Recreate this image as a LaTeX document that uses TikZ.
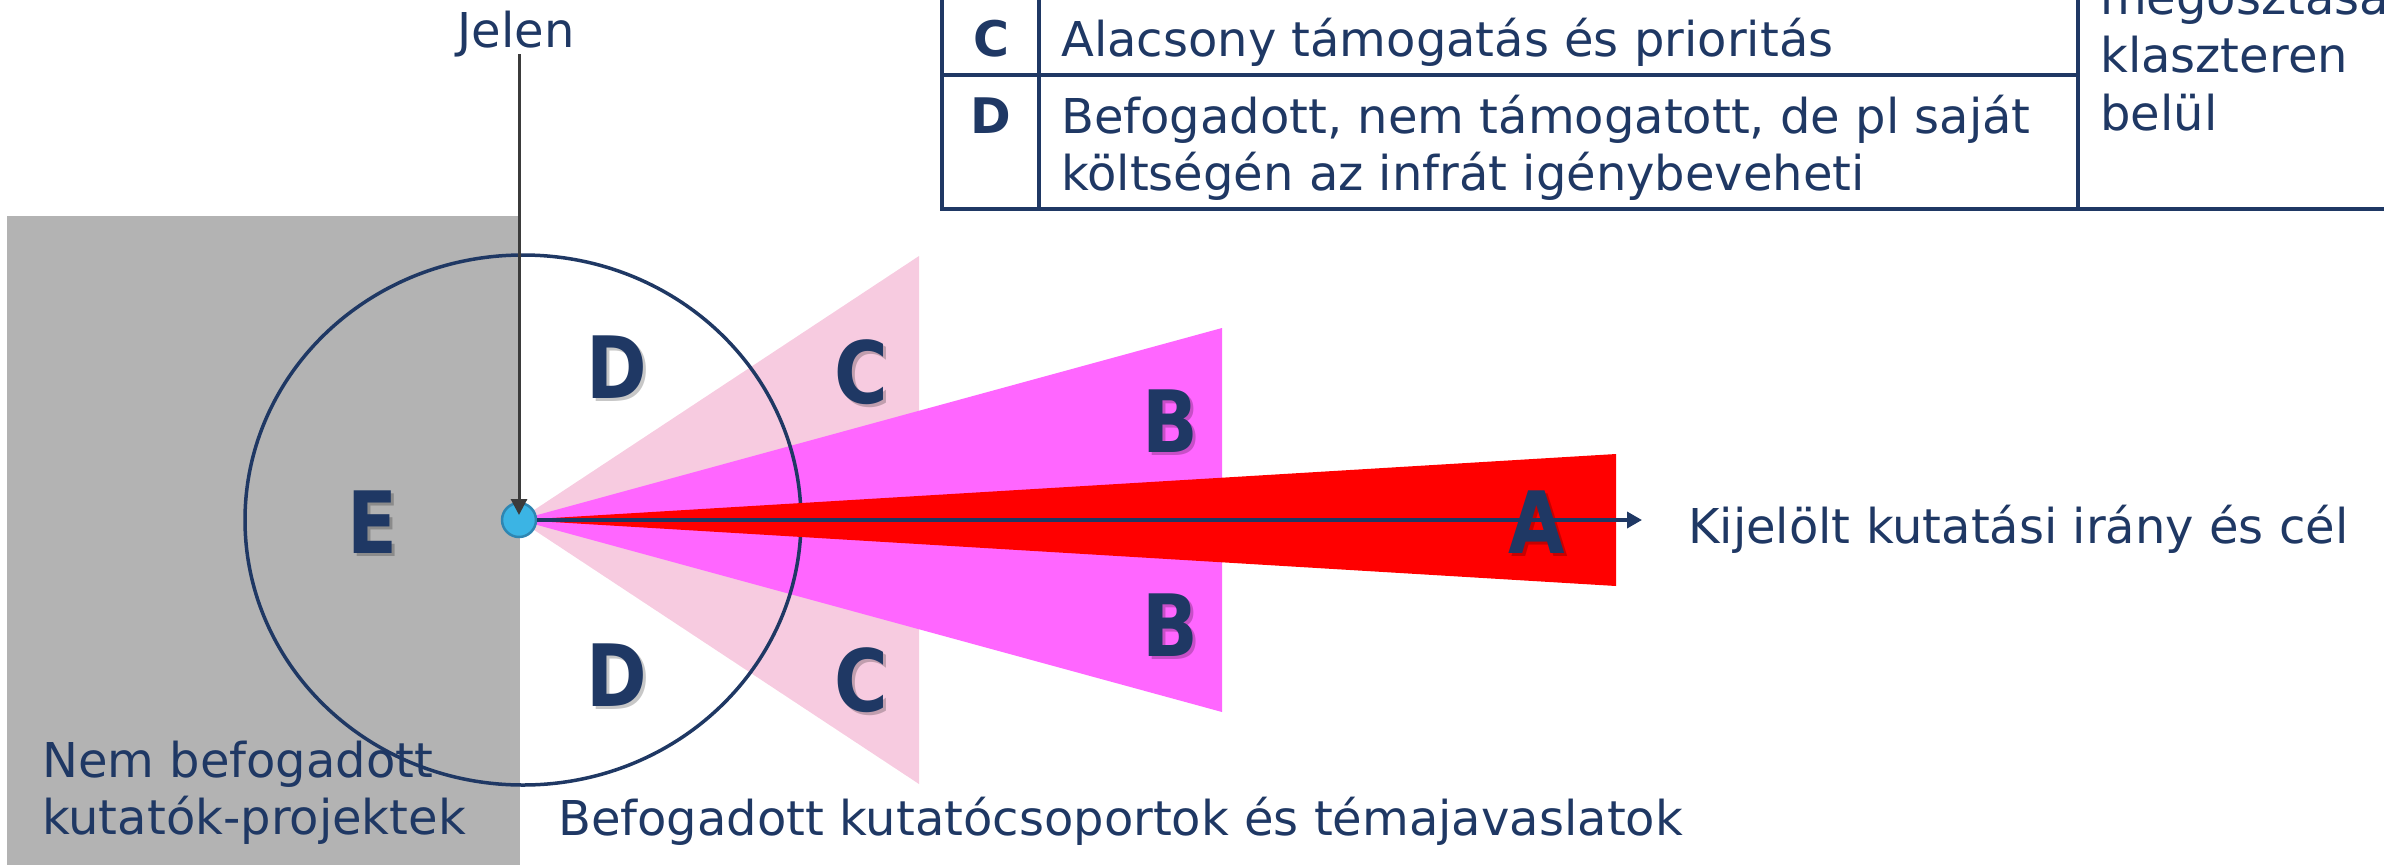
\documentclass[tikz,border=0pt]{standalone}
\usepackage{fontspec}
\setmainfont{DejaVu Sans}
\usetikzlibrary{arrows.meta}
\definecolor{navy}{HTML}{1F3864}
\definecolor{greybg}{HTML}{B3B3B3}
\definecolor{pinkC}{HTML}{F7CBE0}
\definecolor{magB}{HTML}{FF66FF}
\definecolor{redA}{HTML}{FF0000}
\definecolor{dotfill}{HTML}{3BB4E4}
\definecolor{dotline}{HTML}{2E86B2}
\definecolor{arrgray}{HTML}{3B3B3B}
\tikzset{
  lbl/.style={inner sep=0pt, text=navy, font=\fontsize{48}{58}\selectfont, anchor=base west},
  tabltr/.style={inner sep=0pt, text=navy, font=\fontsize{49}{58}\selectfont\bfseries, anchor=base},
  bigletter/.style={inner sep=0pt, text=navy, font=\fontsize{86}{86}\selectfont\bfseries},
  bigshadow/.style={inner sep=0pt, text=black, opacity=0.22, font=\fontsize{86}{86}\selectfont\bfseries},
  tabline/.style={draw=navy, line width=3.5pt},
}
\newcommand\bigltr[3]{%
  \node[bigshadow, xshift=3pt, yshift=-3pt] at (#2) {\scalebox{0.85}[1]{#3}};
  \node[bigletter] (#1) at (#2) {\scalebox{0.85}[1]{#3}};}
\begin{document}
\begin{tikzpicture}[x=1pt, y=-1pt]
\useasboundingbox (0,0) rectangle (2384,865);
% grey area
\fill[greybg] (7,216) rectangle (520,865);
% fans
\fill[pinkC] (519,520) -- (919,256) -- (919,784) -- cycle;
\fill[magB] (519,520) -- (1222,328) -- (1222,712) -- cycle;
% circle
\draw[navy, line width=3.5pt] (523,520) ellipse [x radius=278, y radius=265];
\fill[redA] (519,520) -- (1616,454) -- (1616,586) -- cycle;
% big letters
\bigltr{lE}{372,522}{E}
\bigltr{lDt}{617,367}{D}
\bigltr{lDb}{617,675}{D}
\bigltr{lCt}{861,372}{C}
\bigltr{lCb}{861,680}{C}
\bigltr{lBt}{1170,421}{B}
\bigltr{lBb}{1170,625}{B}
\bigltr{lA}{1537,522}{A}
% dot and arrows
\node[circle, fill=dotfill, draw=dotline, line width=2.5pt, minimum size=34pt, inner sep=0pt] (dot) at (519,520) {};
\coordinate (goal) at (1642,520);
\draw[navy, line width=3.5pt, -{Triangle[length=15pt,width=16pt]}] (dot.east) -- (goal);
\node[lbl] (goaltxt) at (1688,543) {Kijelölt kutatási irány és cél};
\node[lbl, anchor=base] (jelen) at (516,47) {Jelen};
\coordinate (jstart) at (519,54);
\draw[arrgray, line width=3pt, -{Triangle[length=16pt,width=16pt]}] (jstart) -- (519,515);
% bottom labels
\node[lbl] (nem1) at (42,777) {Nem befogadott};
\node[lbl] (nem2) at (42,834) {kutatók-projektek};
\node[lbl] (bef) at (558,835) {Befogadott kutatócsoportok és témajavaslatok};
% table
\draw[tabline] (942,-5) -- (942,209);
\draw[tabline] (1039,-5) -- (1039,209);
\draw[tabline] (2078,-5) -- (2078,209);
\draw[tabline] (942,75) -- (2078,75);
\draw[tabline] (940,209) -- (2390,209);
\node[tabltr] (tC) at (991,56) {C};
\node[lbl] (tCtxt) at (1061,56) {Alacsony támogatás és prioritás};
\node[tabltr] (tD) at (991,133) {D};
\node[lbl] (tDtxt1) at (1061,133) {Befogadott, nem támogatott, de pl saját};
\node[lbl] (tDtxt2) at (1061,190) {költségén az infrát igénybeveheti};
\node[lbl] (r1) at (2100,14) {megosztása};
\node[lbl] (r2) at (2100,72) {klaszteren};
\node[lbl] (r3) at (2100,130) {belül};
\end{tikzpicture}
\end{document}
